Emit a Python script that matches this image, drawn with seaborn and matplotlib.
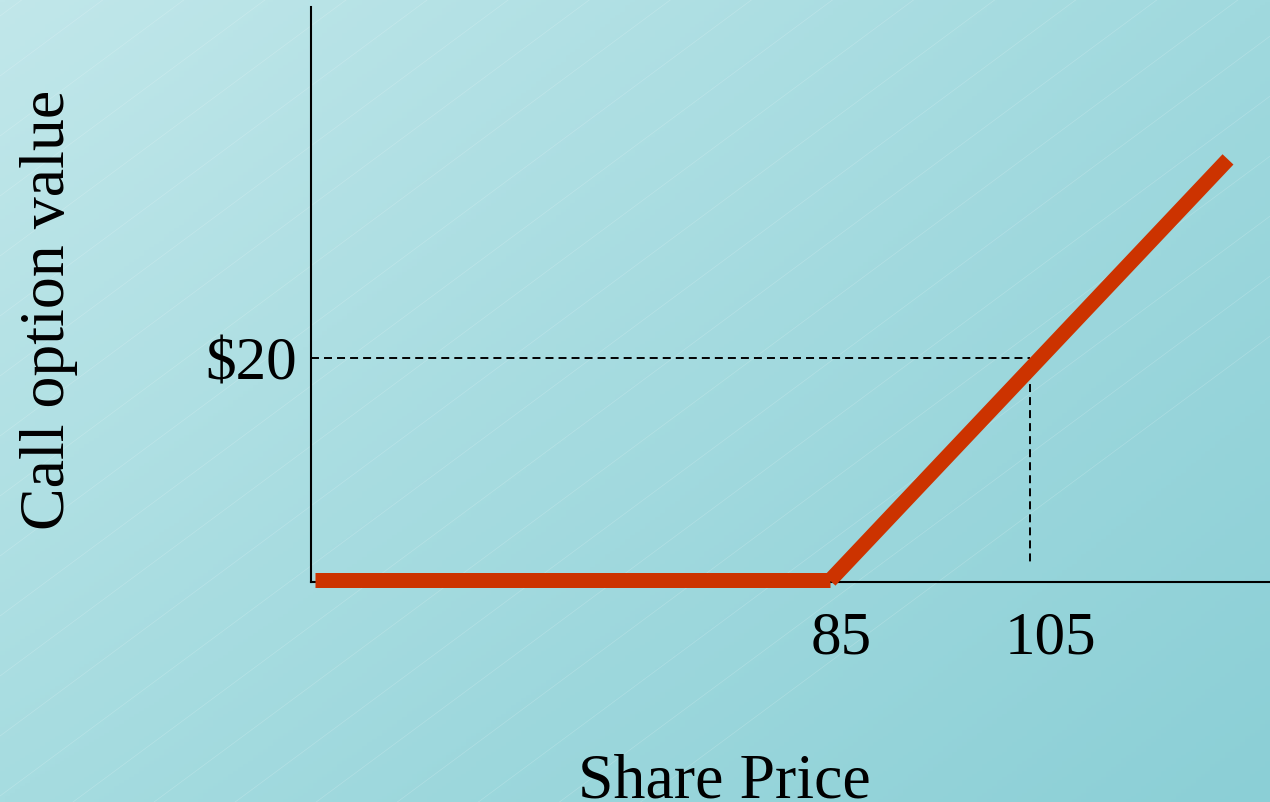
import numpy as np
import pandas as pd
import matplotlib
matplotlib.use("Agg")
import matplotlib.pyplot as plt
import matplotlib.transforms as mtransforms
import seaborn as sns

# ---- data ----
segment = ["flat", "flat", "rise", "rise"]
share_price = [33.5, 85, 85, 124.8]
option_value = [0, 0, 0, 37.8]
tick_x = [85, 105]
tick_x_labels = ["85", "105"]
tick_y = [20]
tick_y_labels = ["$20"]
guide_x = 105
guide_y = 20
guide_y_bottom = 1.4
x_label = "Share Price"
y_label = "Call option value"

sns.set_theme(style="white")
plt.rcParams["font.family"] = ["Liberation Serif", "DejaVu Serif"]

W, H = 1270, 803
fig = plt.figure(figsize=(W / 100, H / 100), dpi=100)

# background gradient
bg = fig.add_axes([0, 0, 1, 1], zorder=0)
bg.set_axis_off()
tl = np.array([193, 231, 234]) / 255
tr = np.array([160, 217, 222]) / 255
bl = np.array([166, 220, 224]) / 255
br = np.array([139, 207, 214]) / 255
u = np.linspace(0, 1, 256)[None, :, None]
v = np.linspace(0, 1, 256)[:, None, None]
img = (1 - v) * ((1 - u) * tl + u * tr) + v * ((1 - u) * bl + u * br)
bg.imshow(img, extent=[0, W, 0, H], aspect="auto", origin="upper")
for c in np.arange(726 - 60 * 20, H + 60, 60):
    xs = np.array([0, W])
    bg.plot(xs, c + 0.74 * xs, color="white", lw=0.5, alpha=0.2)
bg.set_xlim(0, W)
bg.set_ylim(0, H)

ax = fig.add_axes([311 / W, (H - 583) / H, (W - 311) / W, (583 - 8) / H], zorder=1)
ax.set_facecolor("none")

df = pd.DataFrame({"segment": segment, "price": share_price, "value": option_value})
sns.lineplot(data=df, x="price", y="value", hue="segment", units="segment",
             estimator=None, sort=False, palette=["#cc3300", "#cc3300"],
             legend=False, ax=ax, zorder=3)
for line in ax.get_lines():
    line.set_linewidth(10.8)
    line.set_solid_capstyle("butt")
    line.set_clip_on(False)

xlim = (33.1, 129.0)
ylim = (-0.135, 51.48)
ax.plot([xlim[0], guide_x], [guide_y, guide_y], color="black", lw=1.4,
        linestyle=(0, (4.1, 2.6)), zorder=2)
ax.plot([guide_x, guide_x], [guide_y, guide_y_bottom], color="black", lw=1.4,
        linestyle=(0, (4.1, 2.6)), zorder=2)

ax.set_xlim(*xlim)
ax.set_ylim(*ylim)

for side in ["top", "right"]:
    ax.spines[side].set_visible(False)
for side in ["left", "bottom"]:
    ax.spines[side].set_color("black")
    ax.spines[side].set_linewidth(1.5)
    ax.spines[side].set_zorder(1)

ax.set_xticks(tick_x, tick_x_labels)
ax.set_yticks(tick_y, tick_y_labels)
ax.tick_params(axis="x", length=0, pad=20, labelsize=44, colors="black")
ax.tick_params(axis="y", length=0, pad=10, labelsize=44, colors="black")
offsets = [11, 20]
for lab, off in zip(ax.get_xticklabels(), offsets):
    lab.set_transform(lab.get_transform() +
                      mtransforms.ScaledTranslation(off / 100, 0, fig.dpi_scale_trans))

ax.set_xlabel(x_label, fontsize=46, color="black", va="baseline")
ax.xaxis.set_label_coords((724 - 311) / 959, (583 - 797) / 575)
ax.set_ylabel(y_label, fontsize=46, color="black")
ax.yaxis.label.set(ha="center", va="center", rotation_mode="default")
ax.yaxis.set_label_coords((49 - 311) / 959, (583 - 310) / 575)

fig.savefig("out.png", dpi=100)
